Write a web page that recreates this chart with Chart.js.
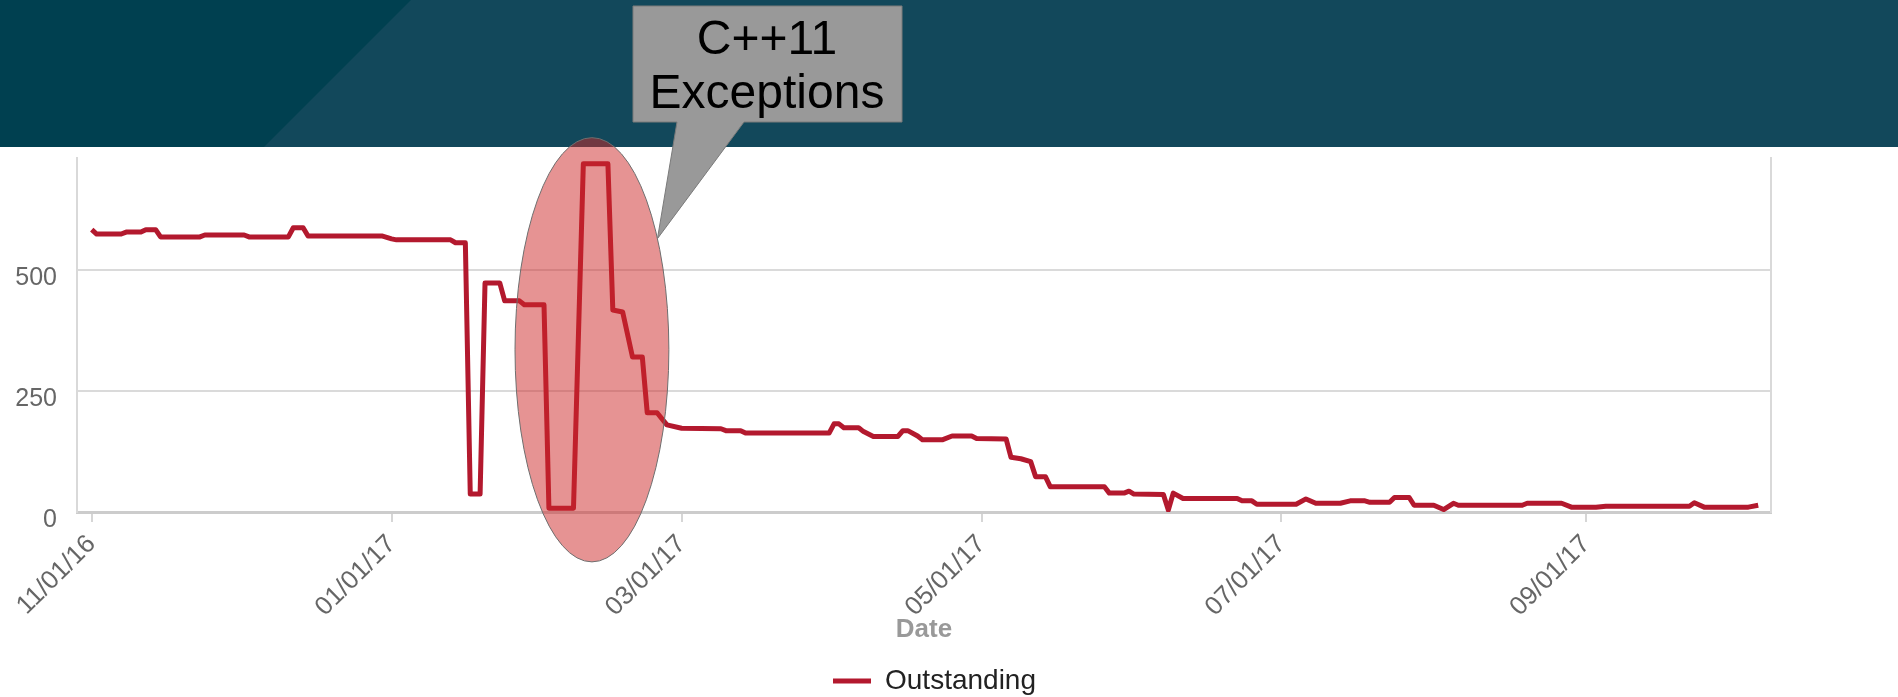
<!DOCTYPE html>
<html>
<head>
<meta charset="utf-8">
<script src="https://cdn.jsdelivr.net/npm/chart.js@4.4.1/dist/chart.umd.min.js"></script>
<style>
  html, body { margin: 0; padding: 0; background: #fff; }
  canvas { display: block; }
</style>
</head>
<body>
<canvas id="chart" width="1898" height="697"></canvas>
<script>
const startDate = '2016-11-01';

// dates where the count changes, and the count on that day
const dates = [
  '2016-11-01', '2016-11-02', '2016-11-07', '2016-11-08', '2016-11-11', '2016-11-12', '2016-11-14',
  '2016-11-15', '2016-11-23', '2016-11-24', '2016-12-02', '2016-12-03', '2016-12-11', '2016-12-12',
  '2016-12-14', '2016-12-15', '2016-12-30', '2017-01-01', '2017-01-02', '2017-01-13', '2017-01-14',
  '2017-01-16', '2017-01-17', '2017-01-19', '2017-01-20', '2017-01-23', '2017-01-24', '2017-01-27',
  '2017-01-28', '2017-02-01', '2017-02-02', '2017-02-07', '2017-02-09', '2017-02-14', '2017-02-15',
  '2017-02-17', '2017-02-19', '2017-02-21', '2017-02-22', '2017-02-24', '2017-02-26', '2017-03-01',
  '2017-03-09', '2017-03-10', '2017-03-13', '2017-03-14', '2017-03-31', '2017-04-01', '2017-04-02',
  '2017-04-03', '2017-04-06', '2017-04-07', '2017-04-09', '2017-04-14', '2017-04-15', '2017-04-16',
  '2017-04-18', '2017-04-19', '2017-04-23', '2017-04-25', '2017-04-29', '2017-04-30', '2017-05-06',
  '2017-05-07', '2017-05-09', '2017-05-11', '2017-05-12', '2017-05-14', '2017-05-15', '2017-05-26',
  '2017-05-27', '2017-05-30', '2017-05-31', '2017-06-01', '2017-06-07', '2017-06-08', '2017-06-09',
  '2017-06-11', '2017-06-22', '2017-06-23', '2017-06-25', '2017-06-26', '2017-07-04', '2017-07-06',
  '2017-07-08', '2017-07-13', '2017-07-15', '2017-07-18', '2017-07-19', '2017-07-23', '2017-07-24',
  '2017-07-27', '2017-07-28', '2017-08-01', '2017-08-03', '2017-08-05', '2017-08-06', '2017-08-19',
  '2017-08-20', '2017-08-27', '2017-08-29', '2017-09-03', '2017-09-05', '2017-09-22', '2017-09-23',
  '2017-09-25', '2017-10-04', '2017-10-06'
];
const outstanding = [
  583, 574, 574, 578, 578, 583, 583,
  568, 568, 572, 572, 568, 568, 587,
  587, 570, 570, 564, 562, 562, 556,
  556, 37, 37, 473, 473, 436, 436,
  428, 428, 8, 8, 719, 719, 417,
  413, 320, 320, 205, 205, 180, 173,
  172, 168, 168, 163, 163, 182, 182,
  174, 174, 166, 156, 156, 168, 168,
  157, 149, 149, 157, 157, 152, 151,
  113, 110, 104, 73, 73, 52, 52,
  39, 39, 43, 37, 36, 4, 39,
  28, 28, 23, 23, 16, 16, 27,
  18, 18, 23, 23, 20, 20, 30,
  30, 14, 14, 5, 18, 14, 14,
  18, 18, 10, 10, 12, 12, 19,
  10, 10, 14
];

const tickDates = ['2016-11-01', '2017-01-01', '2017-03-01', '2017-05-01', '2017-07-01', '2017-09-01'];
const yTicks = [0, 250, 500];

const family = '"Liberation Sans", Arial, Helvetica, sans-serif';
Chart.defaults.font.family = family;

function dayOf(d) {
    return Math.round((Date.parse(d) - Date.parse(startDate)) / 864e5);
}

function dateLabel(day) {
    const t = new Date(Date.parse(startDate) + day * 864e5);
    const pad = n => String(n).padStart(2, '0');
    return pad(t.getUTCMonth() + 1) + '/' + pad(t.getUTCDate()) + '/' + pad(t.getUTCFullYear() % 100);
}

// dark banner across the top of the slide
const banner = {
    id: 'banner',
    beforeDraw(chart) {
        const ctx = chart.ctx;
        ctx.save();
        ctx.fillStyle = '#12485b';
        ctx.fillRect(0, 0, chart.width, 147);
        ctx.fillStyle = '#004050';
        ctx.beginPath();
        ctx.moveTo(0, 0);
        ctx.lineTo(411, 0);
        ctx.lineTo(264, 147);
        ctx.lineTo(0, 147);
        ctx.closePath();
        ctx.fill();
        ctx.restore();
    }
};

// ellipse round the C++11 exceptions period and the speech bubble
const callout = {
    id: 'callout',
    afterDraw(chart) {
        const {ctx, scales: {x, y}} = chart;
        const ring = {from: 86.1, to: 117.4, low: -103, high: 773};
        const left = x.getPixelForValue(ring.from), right = x.getPixelForValue(ring.to);
        const top = y.getPixelForValue(ring.high), bottom = y.getPixelForValue(ring.low);
        const cx = (left + right) / 2, cy = (top + bottom) / 2;
        const rx = (right - left) / 2, ry = (bottom - top) / 2;

        ctx.save();
        ctx.beginPath();
        ctx.ellipse(cx, cy, rx, ry, 0, 0, Math.PI * 2);
        ctx.fillStyle = 'rgba(205, 40, 40, 0.5)';
        ctx.fill();
        ctx.strokeStyle = '#6e6e6e';
        ctx.lineWidth = 1;
        ctx.stroke();

        const a = -31.6 * Math.PI / 180;
        const tipX = cx + rx * Math.cos(a), tipY = cy + ry * Math.sin(a);
        ctx.beginPath();
        ctx.moveTo(633, 6);
        ctx.lineTo(902, 6);
        ctx.lineTo(902, 122);
        ctx.lineTo(744, 122);
        ctx.lineTo(tipX, tipY);
        ctx.lineTo(677, 122);
        ctx.lineTo(633, 122);
        ctx.closePath();
        ctx.fillStyle = '#999999';
        ctx.fill();
        ctx.strokeStyle = '#7a7a7a';
        ctx.stroke();

        ctx.fillStyle = '#000';
        ctx.font = '48px ' + family;
        ctx.textAlign = 'center';
        ctx.textBaseline = 'alphabetic';
        ctx.fillText('C++11', 767, 54);
        ctx.fillText('Exceptions', 767, 108);
        ctx.restore();
    }
};

new Chart(document.getElementById('chart'), {
    type: 'line',
    data: {
        datasets: [{
            label: 'Outstanding',
            data: dates.map((d, i) => ({x: dayOf(d), y: outstanding[i]})),
            borderColor: '#b3192e',
            backgroundColor: '#b3192e',
            borderWidth: 5,
            borderJoinStyle: 'round',
            pointRadius: 0,
            tension: 0,
            fill: false
        }]
    },
    options: {
        responsive: false,
        animation: false,
        layout: {padding: {top: 158, right: 29, left: 0, bottom: -8}},
        plugins: {
            legend: {
                position: 'bottom',
                labels: {
                    usePointStyle: true,
                    pointStyle: 'line',
                    pointStyleWidth: 38,
                    padding: 1,
                    color: '#222',
                    font: {size: 28}
                }
            },
            tooltip: {enabled: false}
        },
        scales: {
            x: {
                type: 'linear',
                min: -3,
                max: 341.6,
                afterBuildTicks: s => { s.ticks = tickDates.map(d => ({value: dayOf(d)})); },
                afterFit: s => { s.height = 154; },
                grid: {drawOnChartArea: false, drawTicks: true, tickLength: 10, color: '#d6d6d6', lineWidth: 2},
                border: {color: '#cccccc', width: 3},
                ticks: {
                    minRotation: 45,
                    maxRotation: 45,
                    autoSkip: false,
                    padding: 7,
                    color: '#666',
                    font: {size: 26},
                    callback: v => dateLabel(v)
                },
                title: {
                    display: true,
                    text: 'Date',
                    color: '#999',
                    font: {size: 26, weight: 'bold'},
                    padding: {top: 0, bottom: 21}
                }
            },
            y: {
                min: 0,
                max: 731,
                afterBuildTicks: s => { s.ticks = yTicks.map(v => ({value: v})); },
                afterFit: s => { s.width = 77; },
                grid: {color: '#dadada', lineWidth: 2, drawTicks: false},
                border: {color: '#d9d9d9', width: 2},
                ticks: {padding: 20, labelOffset: 8, color: '#666', font: {size: 25}}
            },
            // empty right-hand axis: only its frame line is shown
            frame: {
                axis: 'y',
                position: 'right',
                min: 0,
                max: 1,
                afterFit: s => { s.width = 98; },
                grid: {display: false},
                ticks: {display: false},
                border: {display: true, color: '#d9d9d9', width: 2}
            }
        }
    },
    plugins: [banner, callout]
});
</script>
</body>
</html>
